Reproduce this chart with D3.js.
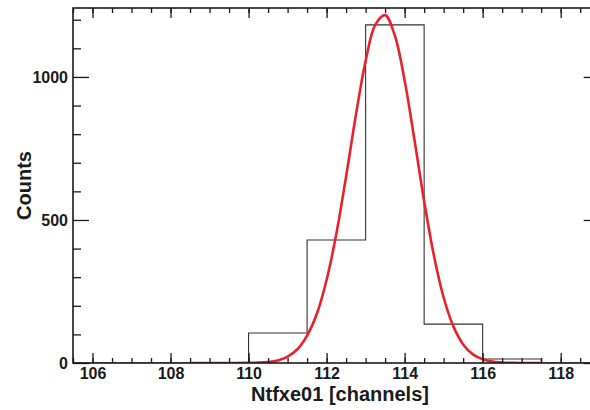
<!DOCTYPE html>
<html>
<head>
<meta charset="utf-8">
<style>
    body { margin: 0; background: #fff; }
    svg { display: block; font-family: "Liberation Sans", Arial, sans-serif; }
    .tick text { font-size: 16px; font-weight: bold; fill: #1a1a1a; }
    .axis path.domain { display: none; }
    .axis line { stroke: #1a1a1a; stroke-width: 1.3; }
</style>
</head>
<body>
<svg width="590" height="410"></svg>
<script src="https://cdn.jsdelivr.net/npm/d3@7"></script>
<script>
    // histogram bins (edges in channels) and counts
    var binEdges = [105.5, 107, 108.5, 110, 111.5, 113, 114.5, 116, 117.5, 119];
    var binCounts = [0, 0, 0, 105, 430, 1182, 136, 14, 0];

    // gaussian fit curve
    var fitX = [108.5, 109, 109.5, 110, 110.25, 110.5, 110.75, 111, 111.25, 111.5, 111.75,
                112, 112.25, 112.5, 112.75, 113, 113.25, 113.5, 113.75, 114, 114.25, 114.5,
                114.75, 115, 115.25, 115.5, 115.75, 116, 116.25, 116.5, 116.75, 117, 117.25, 117.5];
    var fitY = [0, 0, 0.1, 0.4, 1.2, 3.5, 9, 22, 48, 96, 172,
                290, 452, 652, 866, 1056, 1183, 1216, 1144, 988, 782, 566,
                376, 229, 128, 65, 30, 13, 5, 2, 0.6, 0.2, 0.05, 0];

    var xMajor = [106, 108, 110, 112, 114, 116, 118];
    var xMinor = d3.range(105.5, 119.01, 0.5);
    var yMajor = [0, 500, 1000];
    var yMinor = [100, 200, 300, 400, 600, 700, 800, 900, 1100, 1200];

    var svg = d3.select("svg");
    var pLeft = 73, pRight = 599.7, pTop = 8, pBottom = 363;

    var x = d3.scaleLinear().domain([105.5, 119]).range([pLeft, pRight]);
    var y = d3.scaleLinear().domain([0, 1241]).range([pBottom, pTop]);

    svg.append("clipPath").attr("id", "clip")
        .append("rect")
        .attr("x", pLeft).attr("y", pTop - 2)
        .attr("width", pRight - pLeft).attr("height", pBottom - pTop + 2);

    // histogram outline
    var pts = [[binEdges[0], 0]];
    binCounts.forEach(function (c, i) {
        pts.push([binEdges[i], c]);
        pts.push([binEdges[i + 1], c]);
    });
    pts.push([binEdges[binEdges.length - 1], 0]);

    svg.append("path")
        .attr("clip-path", "url(#clip)")
        .attr("d", d3.line().x(d => x(d[0])).y(d => y(d[1]))(pts))
        .attr("fill", "none")
        .attr("stroke", "#333")
        .attr("stroke-width", 1.1);

    // fit
    svg.append("path")
        .attr("clip-path", "url(#clip)")
        .attr("d", d3.line().curve(d3.curveCatmullRom)
            .x((d, i) => x(fitX[i])).y(d => y(d))(fitY))
        .attr("fill", "none")
        .attr("stroke", "#e8222a")
        .attr("stroke-width", 2.6);

    // axes
    svg.append("g").attr("class", "axis")
        .attr("transform", "translate(0," + pBottom + ")")
        .call(d3.axisBottom(x).tickValues(xMinor).tickSize(-5).tickFormat(""));
    svg.append("g").attr("class", "axis")
        .attr("transform", "translate(0," + pBottom + ")")
        .call(d3.axisBottom(x).tickValues(xMajor).tickSize(-10).tickPadding(5).tickFormat(d3.format("d")));
    svg.append("g").attr("class", "axis")
        .attr("transform", "translate(0," + pTop + ")")
        .call(d3.axisTop(x).tickValues(xMinor).tickSize(-5).tickFormat(""));
    svg.append("g").attr("class", "axis")
        .attr("transform", "translate(0," + pTop + ")")
        .call(d3.axisTop(x).tickValues(xMajor).tickSize(-10).tickFormat(""));

    svg.append("g").attr("class", "axis")
        .attr("transform", "translate(" + pLeft + ",0)")
        .call(d3.axisLeft(y).tickValues(yMinor).tickSize(-8).tickFormat(""));
    svg.append("g").attr("class", "axis")
        .attr("transform", "translate(" + pLeft + ",0)")
        .call(d3.axisLeft(y).tickValues(yMajor).tickSize(-16).tickPadding(5).tickFormat(d3.format("d")));
    svg.append("g").attr("class", "axis")
        .attr("transform", "translate(" + pRight + ",0)")
        .call(d3.axisRight(y).tickValues(yMinor).tickSize(-8).tickFormat(""));
    svg.append("g").attr("class", "axis")
        .attr("transform", "translate(" + pRight + ",0)")
        .call(d3.axisRight(y).tickValues(yMajor).tickSize(-16).tickFormat(""));

    // frame
    svg.append("rect")
        .attr("x", pLeft).attr("y", pTop)
        .attr("width", pRight - pLeft).attr("height", pBottom - pTop)
        .attr("fill", "none")
        .attr("stroke", "#1a1a1a")
        .attr("stroke-width", 1.6);

    // titles
    svg.append("text")
        .attr("x", 340).attr("y", 401)
        .attr("text-anchor", "middle")
        .style("font-size", "20px").style("font-weight", "bold").style("fill", "#1a1a1a")
        .text("Ntfxe01 [channels]");

    svg.append("text")
        .attr("transform", "translate(31," + ((pTop + pBottom) / 2) + ") rotate(-90)")
        .attr("text-anchor", "middle")
        .style("font-size", "20px").style("font-weight", "bold").style("fill", "#1a1a1a")
        .text("Counts");
</script>
</body>
</html>
